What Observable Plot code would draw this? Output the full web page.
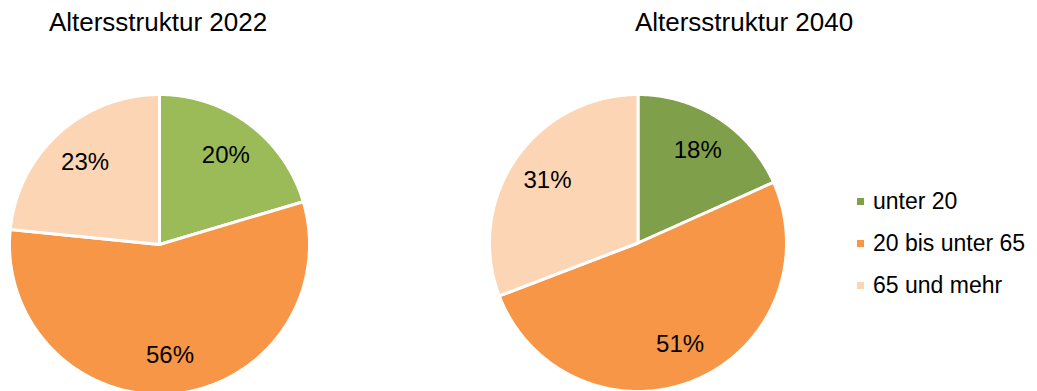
<!DOCTYPE html>
<html>
<head>
<meta charset="utf-8">
<script src="https://cdn.jsdelivr.net/npm/d3@7"></script>
<script src="https://cdn.jsdelivr.net/npm/@observablehq/plot@0.6"></script>
<style>
  html, body { margin: 0; padding: 0; background: #fff; }
  #root { position: relative; width: 1037px; height: 391px; overflow: hidden;
          font-family: "Liberation Sans", Arial, sans-serif; color: #000; }
  .title { position: absolute; top: 6.5px; font-size: 26px; line-height: 30px; text-align: center; white-space: nowrap; }
  .pie { position: absolute; }
  .pie svg { overflow: visible; max-width: none !important; }
  #legend { position: absolute; left: 857px; top: 189.5px; }
  .row { display: flex; align-items: center; height: 23px; margin-bottom: 19px; font-size: 23px; line-height: 23px; white-space: nowrap; }
  .sw { width: 7px; height: 7px; margin-right: 9px; flex: none; }
</style>
</head>
<body>
<div id="root"></div>
<script>
const categories = ["unter 20", "20 bis unter 65", "65 und mehr"];
const titles = ["Altersstruktur 2022", "Altersstruktur 2040"];
const values2022 = [20.4, 56.2, 23.4];
const values2040 = [18.3, 50.9, 30.8];
const colors2022 = ["#9BBB59", "#F79646", "#FCD5B5"];
const colors2040 = ["#7F9F4A", "#F79646", "#FCD5B5"];
const legendColors = colors2040;

const root = document.getElementById("root");
const FONT = '"Liberation Sans", Arial, sans-serif';

function pieChart(values, colors, size) {
  const total = d3.sum(values);
  const rows = [];
  const labels = [];
  let acc = 0;
  values.forEach((v, i) => {
    const a0 = acc / total * 2 * Math.PI;
    acc += v;
    const a1 = acc / total * 2 * Math.PI;
    const n = Math.max(2, Math.ceil((a1 - a0) / (Math.PI / 360)));
    const key = categories[i];
    rows.push({key, x: 0, y: 0});
    for (let k = 0; k <= n; k++) {
      const a = a0 + (a1 - a0) * k / n;
      rows.push({key, x: Math.sin(a), y: Math.cos(a)});
    }
    const mid = (a0 + a1) / 2;
    labels.push({x: 0.74 * Math.sin(mid), y: 0.74 * Math.cos(mid), text: Math.round(v / total * 100) + "%"});
  });
  return Plot.plot({
    width: size, height: size, margin: 0,
    x: {domain: [-1, 1], axis: null},
    y: {domain: [-1, 1], axis: null},
    color: {domain: categories, range: colors},
    style: {background: "transparent", fontFamily: FONT, overflow: "visible"},
    marks: [
      Plot.line(rows, {x: "x", y: "y", z: "key", fill: "key", stroke: "white", strokeWidth: 3, curve: "linear-closed"}),
      Plot.text(labels, {x: "x", y: "y", text: "text", fontSize: 24, fill: "black", fontFamily: FONT})
    ]
  });
}

function place(el, left, top, cls) {
  const d = document.createElement("div");
  d.className = cls;
  d.style.left = left + "px";
  d.style.top = top + "px";
  d.appendChild(el);
  root.appendChild(d);
  return d;
}

// titles
const t1 = document.createElement("div");
t1.className = "title"; t1.textContent = titles[0];
t1.style.left = "0px"; t1.style.width = "316px";
root.appendChild(t1);
const t2 = document.createElement("div");
t2.className = "title"; t2.textContent = titles[1];
t2.style.left = "544px"; t2.style.width = "400px";
root.appendChild(t2);

// pies
place(pieChart(values2022, colors2022, 300), 9, 94, "pie");
place(pieChart(values2040, colors2040, 297), 488.5, 94, "pie");

// legend
const legend = document.createElement("div");
legend.id = "legend";
categories.forEach((c, i) => {
  const row = document.createElement("div");
  row.className = "row";
  const sw = document.createElement("div");
  sw.className = "sw";
  sw.style.background = legendColors[i];
  const tx = document.createElement("span");
  tx.textContent = c;
  row.appendChild(sw); row.appendChild(tx);
  legend.appendChild(row);
});
root.appendChild(legend);
</script>
</body>
</html>
